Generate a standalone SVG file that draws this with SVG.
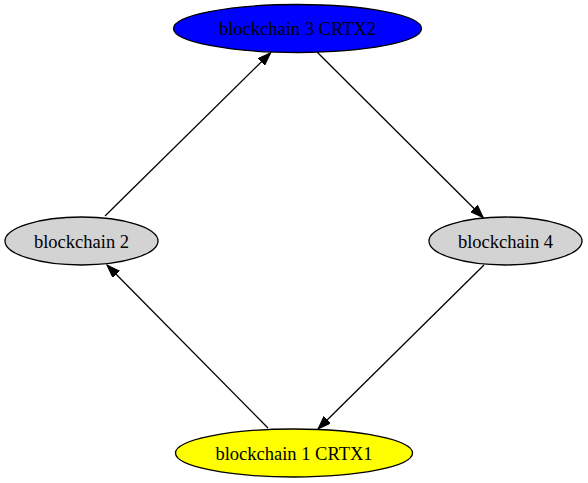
<svg xmlns="http://www.w3.org/2000/svg" width="588" height="483" viewBox="0 0 588 483">
<style>
.n ellipse{stroke:#000;stroke-width:1.3}
.n text{font-family:"Liberation Serif","Times New Roman",serif;font-size:18.5px;text-anchor:middle;fill:#000}
.e line{stroke:#000;stroke-width:1.3}
</style>
<defs>
<marker id="a" markerUnits="userSpaceOnUse" markerWidth="14" markerHeight="10" refX="13" refY="4.7" orient="auto">
<path d="M0,0 L13,4.7 L0,9.4 z" fill="#000" stroke="#000" stroke-width="1"/>
</marker>
</defs>
<rect width="588" height="483" fill="#fff"/>
<g class="e" id="edges">
<line x1="105" y1="216" x2="270.7" y2="52.7" marker-end="url(#a)"/>
<line x1="317" y1="52" x2="483.3" y2="217.7" marker-end="url(#a)"/>
<line x1="484" y1="265" x2="318" y2="429" marker-end="url(#a)"/>
<line x1="268" y1="428" x2="107" y2="265" marker-end="url(#a)"/>
</g>
<g class="n" id="n3"><ellipse cx="297.5" cy="28.5" rx="124" ry="24" fill="#0000ff"/><text x="297.5" y="35">blockchain 3 CRTX2</text></g>
<g class="n" id="n2"><ellipse cx="81.5" cy="241" rx="76.5" ry="24" fill="#d3d3d3"/><text x="81.5" y="247.5">blockchain 2</text></g>
<g class="n" id="n4"><ellipse cx="505.5" cy="241" rx="76.5" ry="24" fill="#d3d3d3"/><text x="505.5" y="247.5">blockchain 4</text></g>
<g class="n" id="n1"><ellipse cx="294" cy="453" rx="118.5" ry="24" fill="#ffff00"/><text x="294" y="459.5">blockchain 1 CRTX1</text></g>
</svg>
